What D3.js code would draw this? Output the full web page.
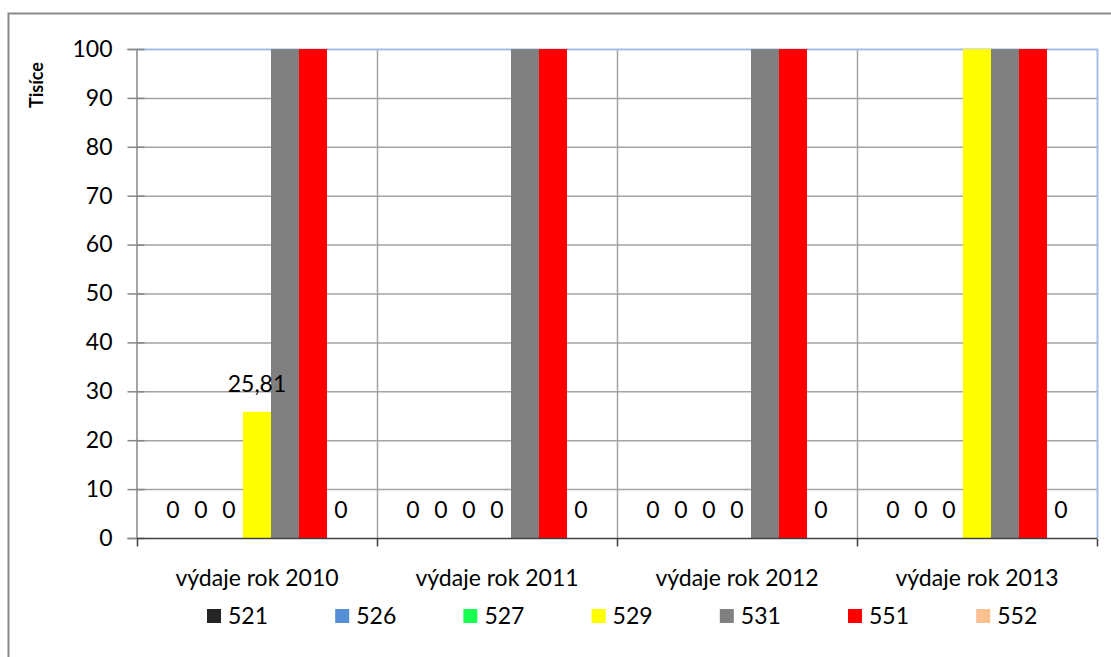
<!DOCTYPE html>
<html>
<head>
<meta charset="utf-8">
<script src="https://cdn.jsdelivr.net/npm/d3@7"></script>
<style>
  body { margin: 0; background: #fff; }
  text { font-family: Lato, "Liberation Sans", sans-serif; fill: #000; }
</style>
</head>
<body>
<script>
var categories = ["výdaje rok 2010", "výdaje rok 2011", "výdaje rok 2012", "výdaje rok 2013"]
var seriesNames = ["521", "526", "527", "529", "531", "551", "552"]
var seriesColours = ["#262626", "#558ED5", "#19FF4F", "#FFFF00", "#808080", "#FF0000", "#FAC090"]
// values in thousands; 531, 551 (and 529 in 2013) run past the top of the axis
var values521 = [0, 0, 0, 0]
var values526 = [0, 0, 0, 0]
var values527 = [0, 0, 0, 0]
var values529 = [25.81, 0, 0, 140]
var values531 = [180, 160, 170, 150]
var values551 = [220, 210, 200, 190]
var values552 = [0, 0, 0, 0]
var yTicks = [0, 10, 20, 30, 40, 50, 60, 70, 80, 90, 100]

var allValues = [values521, values526, values527, values529, values531, values551, values552]

var width = 1111, height = 657
var margin = {left: 137, right: 14, top: 49, bottom: 119}
var fontSize = "23px"

var svg = d3.select("body").append("svg")
    .attr("width", width)
    .attr("height", height)

// outer chart frame
svg.append("rect")
    .attr("x", 8.5).attr("y", 13.5)
    .attr("width", 1120).attr("height", 700)
    .attr("fill", "none")
    .attr("stroke", "#8a8a8a")
    .attr("stroke-width", 2)

var x0 = d3.scaleBand()
    .domain(categories)
    .range([margin.left, width - margin.right])

var x1 = d3.scaleBand()
    .domain(seriesNames)
    .range([0, x0.bandwidth()])
    .paddingOuter(0.786)

var y = d3.scaleLinear()
    .domain([0, 100])
    .range([height - margin.bottom, margin.top])

var plotL = margin.left, plotR = width - margin.right
var plotT = margin.top, plotB = height - margin.bottom

// horizontal gridlines
svg.append("g")
  .selectAll("line")
  .data(yTicks.filter(d => d > 0 && d < 100))
  .enter().append("line")
    .attr("x1", plotL).attr("x2", plotR)
    .attr("y1", d => y(d) + 0.5).attr("y2", d => y(d) + 0.5)
    .attr("stroke", "#a3a3a3")
    .attr("stroke-width", 1.5)

// vertical gridlines between categories
svg.append("g")
  .selectAll("line")
  .data(categories.slice(1))
  .enter().append("line")
    .attr("x1", d => x0(d) + 0.5).attr("x2", d => x0(d) + 0.5)
    .attr("y1", plotT).attr("y2", plotB)
    .attr("stroke", "#a3a3a3")
    .attr("stroke-width", 1.5)

// plot border top/right
svg.append("path")
    .attr("d", "M" + plotL + "," + (plotT + 0.5) + "H" + (plotR + 0.5) + "V" + plotB)
    .attr("fill", "none")
    .attr("stroke", "#a4bdea")
    .attr("stroke-width", 2)

// bars
var groups = svg.append("g")
  .selectAll("g")
  .data(categories)
  .enter().append("g")
    .attr("transform", d => "translate(" + x0(d) + ",0)")

groups.each(function (cat, ci) {
  var g = d3.select(this)
  seriesNames.forEach(function (s, si) {
    var shown = Math.min(allValues[si][ci], 100)
    if (shown > 0) {
      g.append("rect")
        .attr("x", x1(s))
        .attr("y", y(shown))
        .attr("width", x1.bandwidth())
        .attr("height", y(0) - y(shown))
        .attr("fill", seriesColours[si])
    }
  })
})

// data labels, drawn after bars so nothing covers them
groups.each(function (cat, ci) {
  var g = d3.select(this)
  seriesNames.forEach(function (s, si) {
    var v = allValues[si][ci]
    if (v > 100) return
    g.append("text")
      .attr("x", x1(s) + x1.bandwidth() / 2)
      .attr("y", y(v) - 20)
      .attr("text-anchor", "middle")
      .style("font-size", fontSize)
      .text(d3.format(".2~f")(v).replace(".", ","))
  })
})

// y axis
var yAxis = svg.append("g")
    .attr("transform", "translate(" + (plotL - 0.5) + ",0)")
    .call(d3.axisLeft(y).tickValues(yTicks).tickSize(9).tickPadding(11))
yAxis.select(".domain").attr("stroke", "#868686").attr("stroke-width", 1.5)
yAxis.selectAll(".tick line").attr("stroke", "#868686").attr("stroke-width", 1.5)
    .attr("x2", -9).attr("x1", 8)
yAxis.selectAll(".tick text")
    .style("font-size", fontSize)
    .style("font-family", "Lato, sans-serif")
    .attr("fill", "#000")
    .attr("x", -24)

// x axis
var xAxis = svg.append("g")
    .attr("transform", "translate(0," + (plotB + 0.5) + ")")
xAxis.append("line")
    .attr("x1", plotL).attr("x2", plotR)
    .attr("stroke", "#404040").attr("stroke-width", 1.5)
xAxis.selectAll(".xtick")
  .data(categories.concat(["end"]))
  .enter().append("line")
    .attr("x1", d => (d === "end" ? plotR : x0(d)) + 0.5)
    .attr("x2", d => (d === "end" ? plotR : x0(d)) + 0.5)
    .attr("y1", 0).attr("y2", 8)
    .attr("stroke", "#404040").attr("stroke-width", 1.5)
xAxis.selectAll(".xlabel")
  .data(categories)
  .enter().append("text")
    .attr("x", d => x0(d) + x0.bandwidth() / 2)
    .attr("y", 47)
    .attr("text-anchor", "middle")
    .style("font-size", fontSize)
    .text(d => d)

// y axis title
svg.append("text")
    .attr("transform", "translate(43,85) rotate(-90)")
    .attr("text-anchor", "middle")
    .style("font-size", "18px")
    .style("font-weight", "bold")
    .text("Tisíce")

// legend
var legend = svg.append("g")
  .selectAll("g")
  .data(seriesNames)
  .enter().append("g")
    .attr("transform", (d, i) => "translate(" + (207 + i * 128.2) + ",609)")
legend.append("rect")
    .attr("width", 14).attr("height", 14)
    .attr("fill", (d, i) => seriesColours[i])
legend.append("text")
    .attr("x", 21).attr("y", 15)
    .style("font-size", fontSize)
    .text(d => d)
</script>
</body>
</html>
